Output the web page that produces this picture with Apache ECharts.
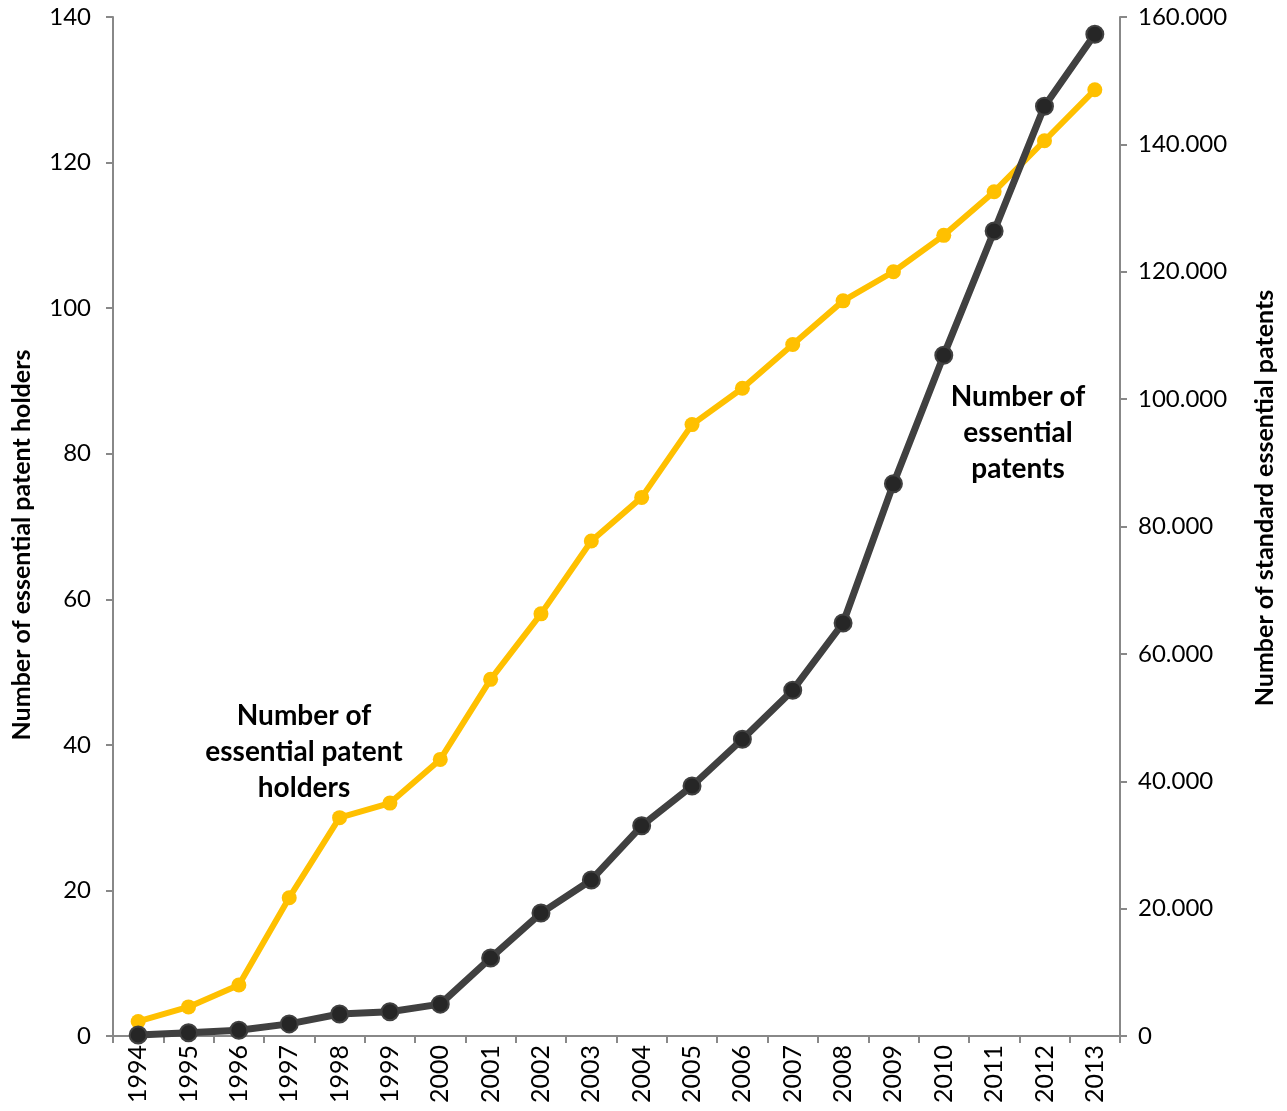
<!DOCTYPE html>
<html><head><meta charset="utf-8">
<script src="https://cdn.jsdelivr.net/npm/echarts@6/dist/echarts.min.js"></script>
<style>html,body{margin:0;padding:0;background:#fff}#c{width:1287px;height:1111px}</style>
</head><body><div id="c"></div>
<script>
const years = ['1994','1995','1996','1997','1998','1999','2000','2001','2002','2003','2004','2005','2006','2007','2008','2009','2010','2011','2012','2013'];
const holders = [2,4,7,19,30,32,38,49,58,68,74,84,89,95,101,105,110,116,123,130];
const patents = [150,500,900,1900,3450,3800,5000,12250,19300,24500,33000,39250,46600,54300,64850,86700,106900,126400,146000,157300];
const leftTitle = 'Number of essential patent holders';
const rightTitle = 'Number of standard essential patents';
const holdersLabel = 'Number of\nessential patent\nholders';
const patentsLabel = 'Number of\nessential\npatents';

const FONT = 'Lato';
const chart = echarts.init(document.getElementById('c'));
const axisLine = {show:true, lineStyle:{color:'#888', width:2}};
chart.setOption({
  animation:false,
  textStyle:{fontFamily:FONT},
  grid:{left:113, right:167, top:17, bottom:75},
  xAxis:{type:'category', data:years, boundaryGap:true,
    axisLine:axisLine, axisTick:{show:true, length:7, lineStyle:{color:'#888', width:2}, alignWithLabel:false},
    axisLabel:{rotate:90, interval:0, fontSize:25, color:'#000', fontFamily:FONT, margin:9}},
  yAxis:[
    {type:'value', min:0, max:140, interval:20, position:'left',
     axisLine:axisLine, axisTick:{show:true, length:7, inside:false, lineStyle:{color:'#888', width:2}},
     splitLine:{show:false},
     axisLabel:{fontSize:24, color:'#000', fontFamily:FONT, margin:22}},
    {type:'value', min:0, max:160000, interval:20000, position:'right',
     axisLine:axisLine, axisTick:{show:true, length:7, lineStyle:{color:'#888', width:2}},
     splitLine:{show:false},
     axisLabel:{fontSize:24, color:'#000', fontFamily:FONT, margin:18,
       formatter:v=> v===0 ? '0' : (v/1000).toFixed(3)}}
  ],
  series:[
    {type:'line', yAxisIndex:0, data:holders, symbol:'circle', symbolSize:15,
     lineStyle:{color:'#FFC000', width:6}, itemStyle:{color:'#FFC000'}, z:2},
    {type:'line', yAxisIndex:1, data:patents, symbol:'circle', symbolSize:17,
     lineStyle:{color:'#404040', width:7}, itemStyle:{color:'#262626', borderColor:'#404040', borderWidth:2}, z:3}
  ],
  graphic:[
    {type:'text', x:22, y:545, rotation:Math.PI/2, style:{text:leftTitle, x:0, y:0, textAlign:'center', textVerticalAlign:'middle', fontSize:25, fontWeight:'bold', fill:'#000', fontFamily:FONT}},
    {type:'text', x:1265, y:498, rotation:Math.PI/2, style:{text:rightTitle, x:0, y:0, textAlign:'center', textVerticalAlign:'middle', fontSize:25, fontWeight:'bold', fill:'#000', fontFamily:FONT}},
    {type:'text', style:{text:holdersLabel, x:304, y:698, textAlign:'center', fontSize:28, fontWeight:'bold', lineHeight:36, fill:'#000', fontFamily:FONT}},
    {type:'text', style:{text:patentsLabel, x:1018, y:379, textAlign:'center', fontSize:28, fontWeight:'bold', lineHeight:36, fill:'#000', fontFamily:FONT}}
  ]
});
</script></body></html>
